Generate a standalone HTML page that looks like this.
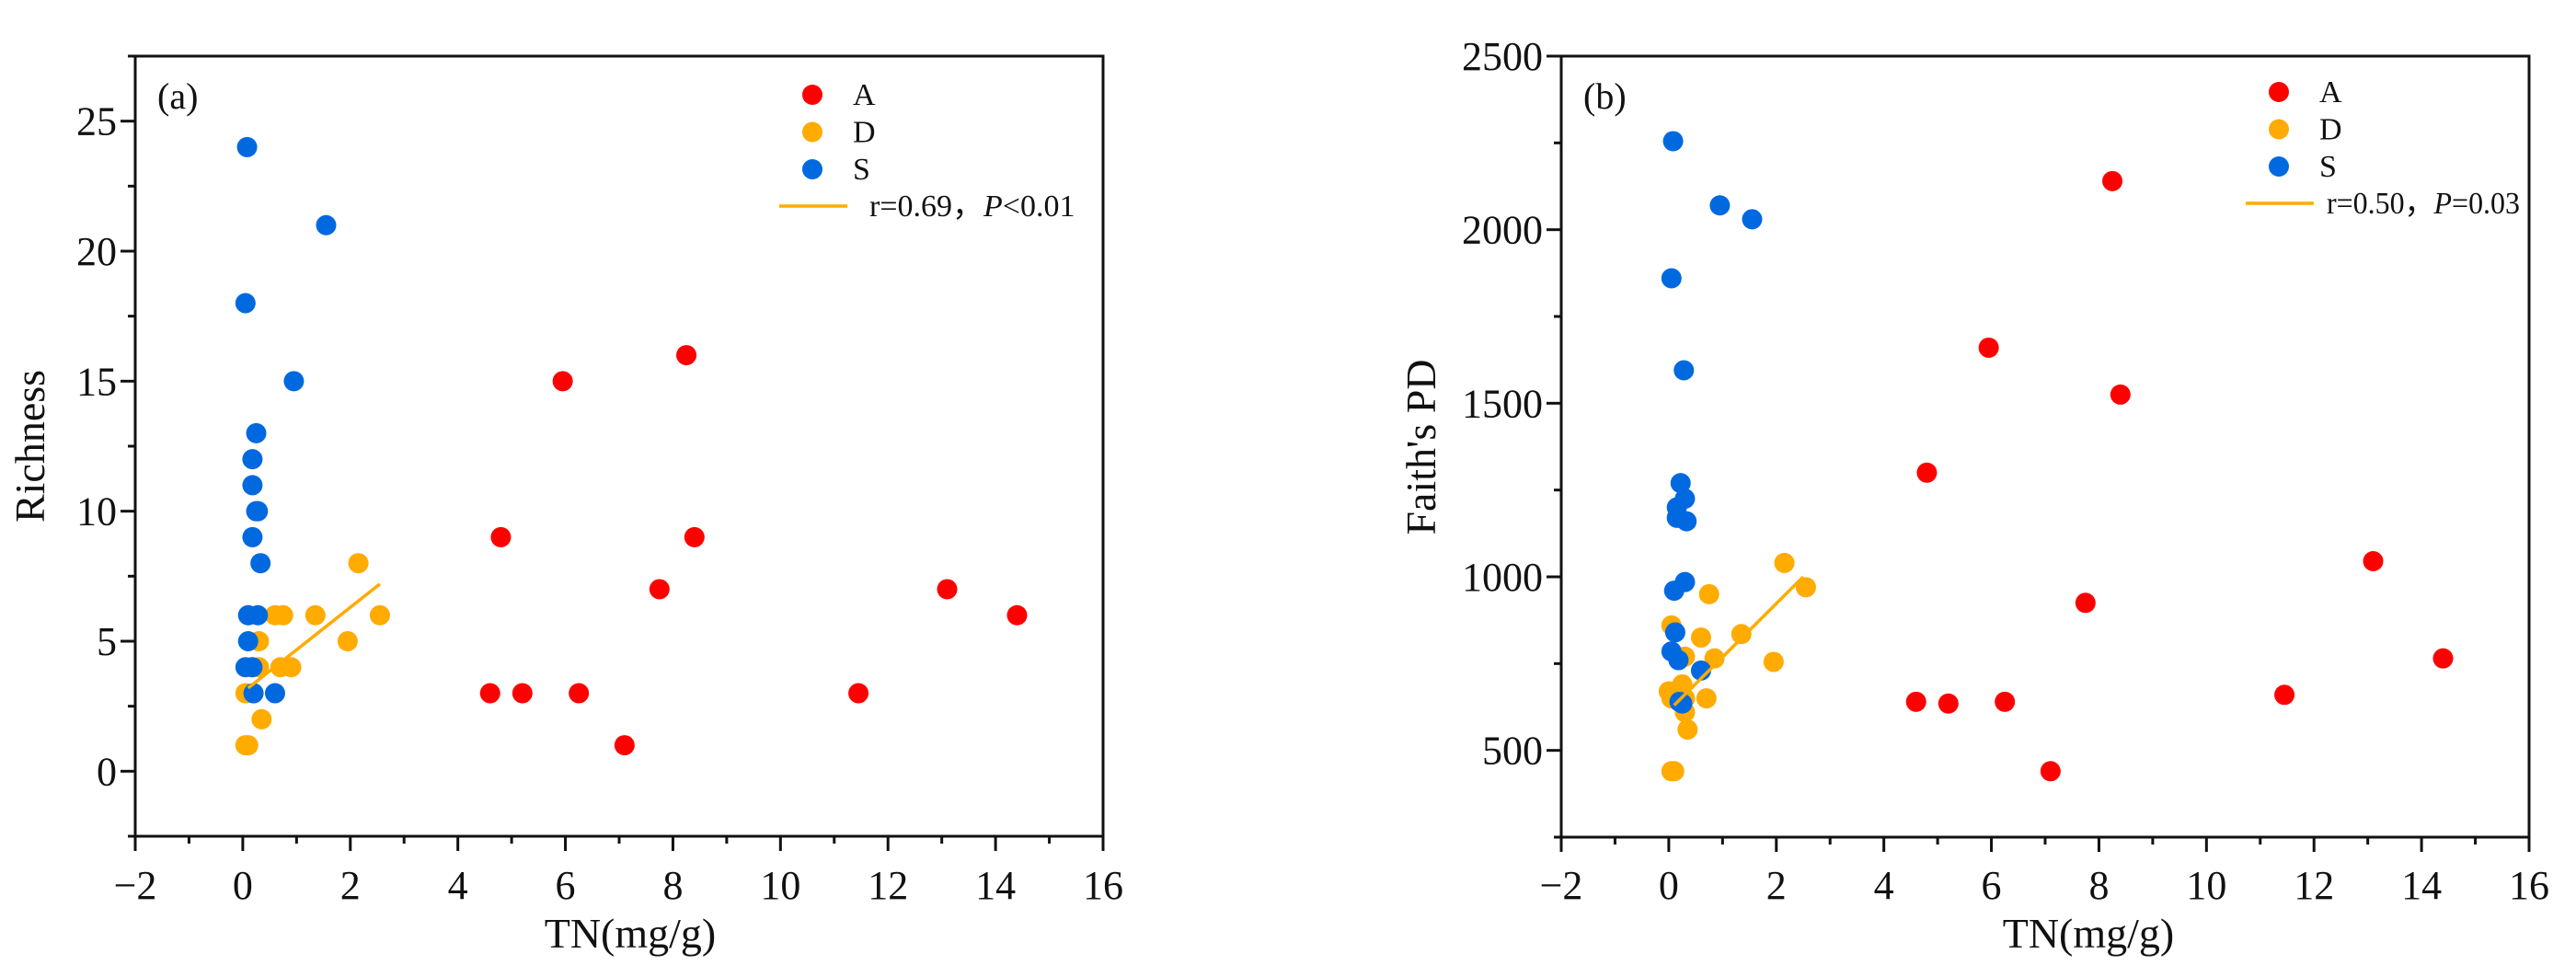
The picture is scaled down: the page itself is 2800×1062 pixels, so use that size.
<!DOCTYPE html>
<html><head><meta charset="utf-8"><style>
html,body{margin:0;padding:0;background:#fff;}
svg{display:block;font-family:"Liberation Serif",serif;}
</style></head><body>
<svg id="chart" width="2800" height="1062" viewBox="0 0 2800 1062" xmlns="http://www.w3.org/2000/svg">
<rect width="2800" height="1062" fill="#fff"/>
</svg>
<script>
// Panel (a): Richness vs TN
const aA_x=[4.6,4.8,5.2,5.95,6.25,7.1,7.75,8.25,8.4,11.45,13.1,14.4];
const aA_y=[3,9,3,15,3,1,7,16,9,3,7,6];
const aD_x=[0.05,0.1,0.05,0.1,0.3,0.3,0.35,0.6,0.75,0.7,0.9,1.35,1.95,2.15,2.55,0.2,0.15];
const aD_y=[1,1,3,6,5,4,2,6,6,4,4,6,5,8,6,3,4];
const aS_x=[0.08,1.55,0.05,0.95,0.25,0.18,0.18,0.25,0.28,0.18,0.33,0.1,0.28,0.1,0.05,0.18,0.2,0.6];
const aS_y=[24,21,18,15,13,12,11,10,10,9,8,6,6,5,4,4,3,3];
const aFit_x=[0.1,2.55];
const aFit_y=[3.2,7.2];
const aYTicks=[0,5,10,15,20,25];
// Panel (b): Faith's PD vs TN
const bA_x=[4.6,4.8,5.2,5.95,6.25,7.1,7.75,8.25,8.4,11.45,13.1,14.4];
const bA_y=[640,1300,635,1660,640,440,925,2140,1525,660,1045,765];
const bD_x=[0.05,0.1,0.35,0.3,0.05,0.0,0.05,0.25,0.2,0.3,0.3,0.6,0.75,0.7,0.85,1.35,1.95,2.15,2.55];
const bD_y=[440,440,560,610,860,670,650,690,640,650,770,825,950,650,765,835,755,1040,970];
const bS_x=[0.08,0.95,1.55,0.05,0.28,0.22,0.3,0.15,0.15,0.33,0.3,0.1,0.12,0.05,0.18,0.6,0.25,0.2];
const bS_y=[2255,2070,2030,1860,1595,1270,1225,1200,1170,1160,985,960,840,785,760,730,635,640];
const bFit_x=[0.1,2.5];
const bFit_y=[630,1000];
const bYTicks=[500,1000,1500,2000,2500];
const xTicks=[-2,0,2,4,6,8,10,12,14,16];

const NS="http://www.w3.org/2000/svg";
const svg=document.getElementById('chart');
function mk(tag,attrs,parent){const e=document.createElementNS(NS,tag);for(const k in attrs)e.setAttribute(k,attrs[k]);(parent||svg).appendChild(e);return e;}
const RED="#ff0000",ORG="#ffab00",BLU="#0069e0";

function panel(cfg){
  const g=mk('g',{});
  
  
  const L=cfg.L,R=cfg.R,T=cfg.T,B=cfg.B;
  const sx=v=>L+(v-(-2))/(18)*(R-L);
  const sy=v=>B-(v-cfg.ymin)/(cfg.ymax-cfg.ymin)*(B-T);
  const fr=mk('rect',{x:L,y:T,width:R-L,height:B-T,fill:'none',stroke:'#111','stroke-width':3},g);
  
  
  for(let v=-2;v<=16;v+=1){
    const maj=(v%2===0);
    const t=mk('line',{x1:sx(v),x2:sx(v),y1:B,y2:B+(maj?16:8),stroke:'#111','stroke-width':3},g);
    
    
  }
  xTicks.forEach(v=>{
    const t=mk('text',{x:sx(v),y:977,'text-anchor':'middle','font-size':44,fill:'#111'},g);
    
    
    t.textContent=(v<0?'\u2212'+(-v):String(v));
  });
  for(let v=cfg.ymin;v<=cfg.ymax+1e-9;v+=cfg.minor){
    const maj=cfg.yticks.some(m=>Math.abs(m-v)<1e-9);
    const t=mk('line',{x1:L-(maj?16:8),x2:L,y1:sy(v),y2:sy(v),stroke:'#111','stroke-width':3},g);
    
    
  }
  cfg.yticks.forEach(v=>{
    const t=mk('text',{x:L-20,y:sy(v)+15,'text-anchor':'end','font-size':44,fill:'#111'},g);
    
    
    t.textContent=String(v);
  });
  const xt=mk('text',{x:cfg.xtx,y:1030,'text-anchor':'middle','font-size':46,fill:'#111'},g);
  
  
  xt.textContent='TN(mg/g)';
  const yt=mk('text',{x:0,y:0,'text-anchor':'middle','font-size':46,fill:'#111',transform:`translate(${cfg.ytx},${cfg.yty}) rotate(-90)`},g);
  
  
  yt.textContent=cfg.ytitle;
  const pl=mk('text',{x:L+24,y:T+57,'font-size':40,fill:'#111'},g);
  
  
  pl.textContent=cfg.label;
  const series=[[cfg.Dx,cfg.Dy,ORG,'point-d'],[cfg.Sx,cfg.Sy,BLU,'point-s'],[cfg.Ax,cfg.Ay,RED,'point-a']];
  series.forEach(s=>{
    for(let i=0;i<s[0].length;i++){
      const c=mk('circle',{cx:sx(s[0][i]),cy:sy(s[1][i]),r:11,fill:s[2]},g);
      
      
    }
  });
  const fl=mk('line',{x1:sx(cfg.fx[0]),y1:sy(cfg.fy[0]),x2:sx(cfg.fx[1]),y2:sy(cfg.fy[1]),stroke:ORG,'stroke-width':3.5},g);
  
  
  const lg=mk('g',{},g);
  
  
  [['A',RED],['D',ORG],['S',BLU]].forEach((e,i)=>{
    const y=cfg.legY+i*40.5;
    const c=mk('circle',{cx:cfg.legX,cy:y,r:11,fill:e[1]},lg);
    
    
    const t=mk('text',{x:cfg.legX+44,y:y+11,'font-size':34,fill:'#111'},lg);
    
    
    t.textContent=e[0];
  });
  const ly=cfg.legY+121;
  const ll=mk('line',{x1:cfg.legX-36,x2:cfg.legX+38,y1:ly,y2:ly,stroke:ORG,'stroke-width':3.5},lg);
  
  
  const attrs={x:cfg.legX+cfg.fitTxtDx,y:ly+11,'font-size':34,fill:'#111'};
  if(cfg.fitLen){attrs.textLength=cfg.fitLen;attrs.lengthAdjust='spacingAndGlyphs';}
  const lt=mk('text',attrs,lg);
  
  
  lt.innerHTML=cfg.fitHtml;
}
panel({name:'panel-a-richness',L:147,R:1199,T:61,B:909,ymin:-2.5,ymax:27.5,minor:2.5,yticks:aYTicks,
  xtx:685,ytx:48,yty:485,ytitle:'Richness',label:'(a)',
  Ax:aA_x,Ay:aA_y,Dx:aD_x,Dy:aD_y,Sx:aS_x,Sy:aS_y,fx:aFit_x,fy:aFit_y,
  legX:883,legY:103,fitTxtDx:62,fitHtml:'r=0.69\uFF0C<tspan font-style="italic">P</tspan>&lt;0.01'});
panel({name:'panel-b-faiths-pd',L:1697,R:2749,T:61,B:910,ymin:250,ymax:2500,minor:250,yticks:bYTicks,
  xtx:2270,ytx:1560,yty:486,ytitle:"Faith's PD",label:'(b)',
  Ax:bA_x,Ay:bA_y,Dx:bD_x,Dy:bD_y,Sx:bS_x,Sy:bS_y,fx:bFit_x,fy:bFit_y,
  legX:2477,legY:100,fitTxtDx:52,fitLen:210,fitHtml:'r=0.50\uFF0C<tspan font-style="italic">P</tspan>=0.03'});
</script>
</body></html>
